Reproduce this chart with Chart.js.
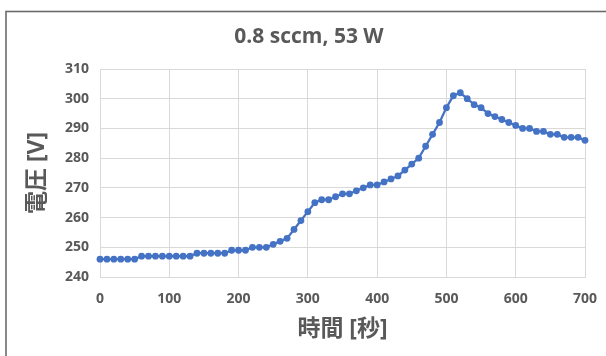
<!DOCTYPE html>
<html>
<head>
<meta charset="utf-8">
<script src="https://cdn.jsdelivr.net/npm/chart.js@4/dist/chart.umd.min.js"></script>
<style>
html,body{margin:0;padding:0;background:#fff;}
canvas{display:block;}
</style>
</head>
<body>
<canvas id="c" width="606" height="356"></canvas>
<script>
const times = [0,10,20,30,40,50,60,70,80,90,100,110,120,130,140,150,160,170,180,190,200,210,220,230,240,250,260,270,280,290,300,310,320,330,340,350,360,370,380,390,400,410,420,430,440,450,460,470,480,490,500,510,520,530,540,550,560,570,580,590,600,610,620,630,640,650,660,670,680,690,700];
const voltages = [246,246,246,246,246,246,247,247,247,247,247,247,247,247,248,248,248,248,248,249,249,249,250,250,250,251,252,253,256,259,262,265,266,266,267,268,268,269,270,271,271,272,273,274,276,278,280,284,288,292,297,301,302,300,298,297,295,294,293,292,291,290,290,289,289,288,288,287,287,287,286];
const chartTitle = '0.8 sccm, 53 W';
const xTitle = '時間 [秒]';
const yTitle = '電圧 [V]';
const xRange = [0, 700, 100];
const yRange = [240, 310, 10];

const TEXT = '#595959';
const GRID = '#d9d9d9';
const BLUE = '#4472C4';
const FONT = "'Open Sans', 'Noto Sans CJK JP', sans-serif";

const borderPlugin = {
  id: 'outerBorder',
  beforeDraw(chart) {
    const ctx = chart.ctx;
    ctx.save();
    ctx.fillStyle = '#fff';
    ctx.fillRect(0, 0, chart.width, chart.height);
    ctx.strokeStyle = '#6b6b6b';
    ctx.lineWidth = 1.6;
    ctx.strokeRect(6, 11.5, 800, 600);
    ctx.restore();
  }
};

new Chart(document.getElementById('c'), {
  type: 'line',
  data: {
    datasets: [{
      data: times.map((t, i) => ({x: t, y: voltages[i]})),
      borderColor: BLUE,
      backgroundColor: BLUE,
      borderWidth: 2.25,
      pointRadius: 3.4,
      pointBorderWidth: 0,
      pointBackgroundColor: BLUE,
      tension: 0,
      clip: false
    }]
  },
  options: {
    responsive: false,
    animation: false,
    devicePixelRatio: 1,
    layout: {padding: {left: 12, right: 0, top: 0, bottom: 0}},
    plugins: {
      legend: {display: false},
      tooltip: {enabled: false},
      title: {
        display: true,
        text: chartTitle,
        color: TEXT,
        font: {family: FONT, size: 21, weight: 'bold', lineHeight: 1.2},
        padding: {top: 24.4, bottom: 19.4}
      }
    },
    scales: {
      x: {
        type: 'linear',
        min: xRange[0], max: xRange[1],
        ticks: {stepSize: xRange[2], color: TEXT, font: {family: FONT, size: 14, weight: 'bold'}, padding: 14, maxRotation: 0},
        grid: {color: GRID, drawTicks: false, lineWidth: 1},
        border: {color: GRID, width: 1},
        title: {display: true, text: xTitle, color: TEXT, font: {family: FONT, size: 23, weight: 'bold', lineHeight: 1.2}, padding: {top: 0, bottom: 13}},
        afterFit(scale) { scale.height = 79; scale.paddingLeft = 0; scale.paddingRight = 0; }
      },
      y: {
        min: yRange[0], max: yRange[1],
        ticks: {stepSize: yRange[2], color: TEXT, font: {family: FONT, size: 14, weight: 'bold'}, padding: 11},
        grid: {color: GRID, drawTicks: false, lineWidth: 1},
        border: {color: GRID, width: 1},
        title: {display: true, text: yTitle, color: TEXT, font: {family: FONT, size: 23, weight: 'bold', lineHeight: 1.2}, padding: {top: 12, bottom: 0}},
        afterFit(scale) { scale.width = 88; }
      },
      yRight: {
        position: 'right',
        display: true,
        min: yRange[0], max: yRange[1],
        ticks: {display: false},
        grid: {display: false, drawTicks: false},
        border: {display: false},
        afterFit(scale) { scale.width = 21; }
      }
    }
  },
  plugins: [borderPlugin]
});
</script>
</body>
</html>
